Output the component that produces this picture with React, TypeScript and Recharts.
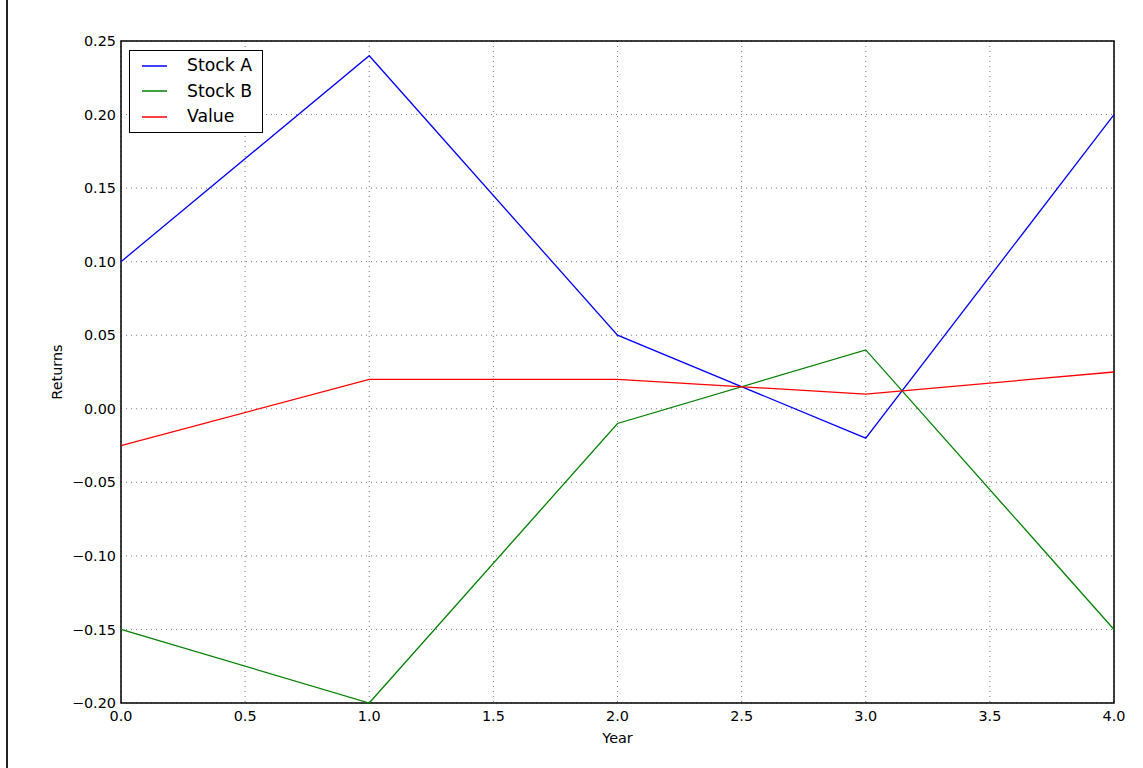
import React from 'react';
import { CartesianGrid, Line, LineChart, ReferenceArea, XAxis, YAxis } from 'recharts';

const years = [0, 1, 2, 3, 4];
const stockA = [0.1, 0.24, 0.05, -0.02, 0.2];
const stockB = [-0.15, -0.2, -0.01, 0.04, -0.15];
const value = [-0.025, 0.02, 0.02, 0.01, 0.025];

const xTicks = [0, 0.5, 1, 1.5, 2, 2.5, 3, 3.5, 4];
const yTicks = [-0.2, -0.15, -0.1, -0.05, 0, 0.05, 0.1, 0.15, 0.2, 0.25];

const series = [
  { key: 'a', name: 'Stock A', color: '#0000ff', values: stockA },
  { key: 'b', name: 'Stock B', color: '#008000', values: stockB },
  { key: 'v', name: 'Value', color: '#ff0000', values: value },
];

const data = years.map((y, i) => ({
  year: y,
  a: stockA[i],
  b: stockB[i],
  v: value[i],
}));

const font = 'DejaVu Sans, sans-serif';
const tickStyle = { fontSize: 14.4, fill: '#000', fontFamily: font };

const fmtY = (v: number) => v.toFixed(2).replace('-', '\u2212');

// matplotlib-style legend box, upper left inside the axes
function LegendBox() {
  return (
    <div
      style={{
        position: 'absolute',
        left: 129,
        top: 50,
        border: '1.5px solid #000',
        background: '#fff',
        padding: '2px 10px 2px 12px',
        fontFamily: font,
        fontSize: 17.3,
        lineHeight: '25.5px',
      }}
    >
      {series.map((s) => (
        <div key={s.key} style={{ display: 'flex', alignItems: 'center' }}>
          <svg width={25} height={4} style={{ marginRight: 20 }}>
            <line x1={0} x2={25} y1={2} y2={2} stroke={s.color} strokeWidth={1.5} />
          </svg>
          <span>{s.name}</span>
        </div>
      ))}
    </div>
  );
}

export default function App() {
  return (
    <div style={{ position: 'absolute', left: 0, top: 0, width: 1143, height: 768, background: '#fff' }}>
      <div style={{ position: 'absolute', left: 6, top: 0, width: 2, height: 768, background: '#222' }} />
      <LineChart
        width={1143}
        height={768}
        data={data}
        margin={{ top: 41, right: 29, bottom: 15, left: 41 }}
      >
        <CartesianGrid stroke="#777" strokeDasharray="1 4" />
        <XAxis
          dataKey="year"
          type="number"
          domain={[0, 4]}
          ticks={xTicks}
          tickFormatter={(v: number) => v.toFixed(1)}
          tick={tickStyle}
          tickLine={false}
          tickMargin={2}
          axisLine={false}
          height={50}
          label={{ value: 'Year', position: 'insideBottom', offset: 10, style: tickStyle }}
        />
        <YAxis
          type="number"
          domain={[-0.2, 0.25]}
          ticks={yTicks}
          tickFormatter={fmtY}
          tick={tickStyle}
          tickLine={false}
          tickMargin={-1}
          width={80}
          axisLine={false}
          label={{ value: 'Returns', angle: -90, position: 'insideLeft', offset: 16, style: { ...tickStyle, textAnchor: 'middle' } }}
        />
        {series.map((s) => (
          <Line
            key={s.key}
            dataKey={s.key}
            name={s.name}
            type="linear"
            stroke={s.color}
            strokeWidth={1.3}
            dot={false}
            activeDot={false}
            isAnimationActive={false}
          />
        ))}
        <ReferenceArea
          x1={0}
          x2={4}
          y1={-0.2}
          y2={0.25}
          fill="none"
          fillOpacity={0}
          stroke="#000"
          strokeWidth={1.5}
          ifOverflow="visible"
        />
      </LineChart>
      <LegendBox />
    </div>
  );
}
